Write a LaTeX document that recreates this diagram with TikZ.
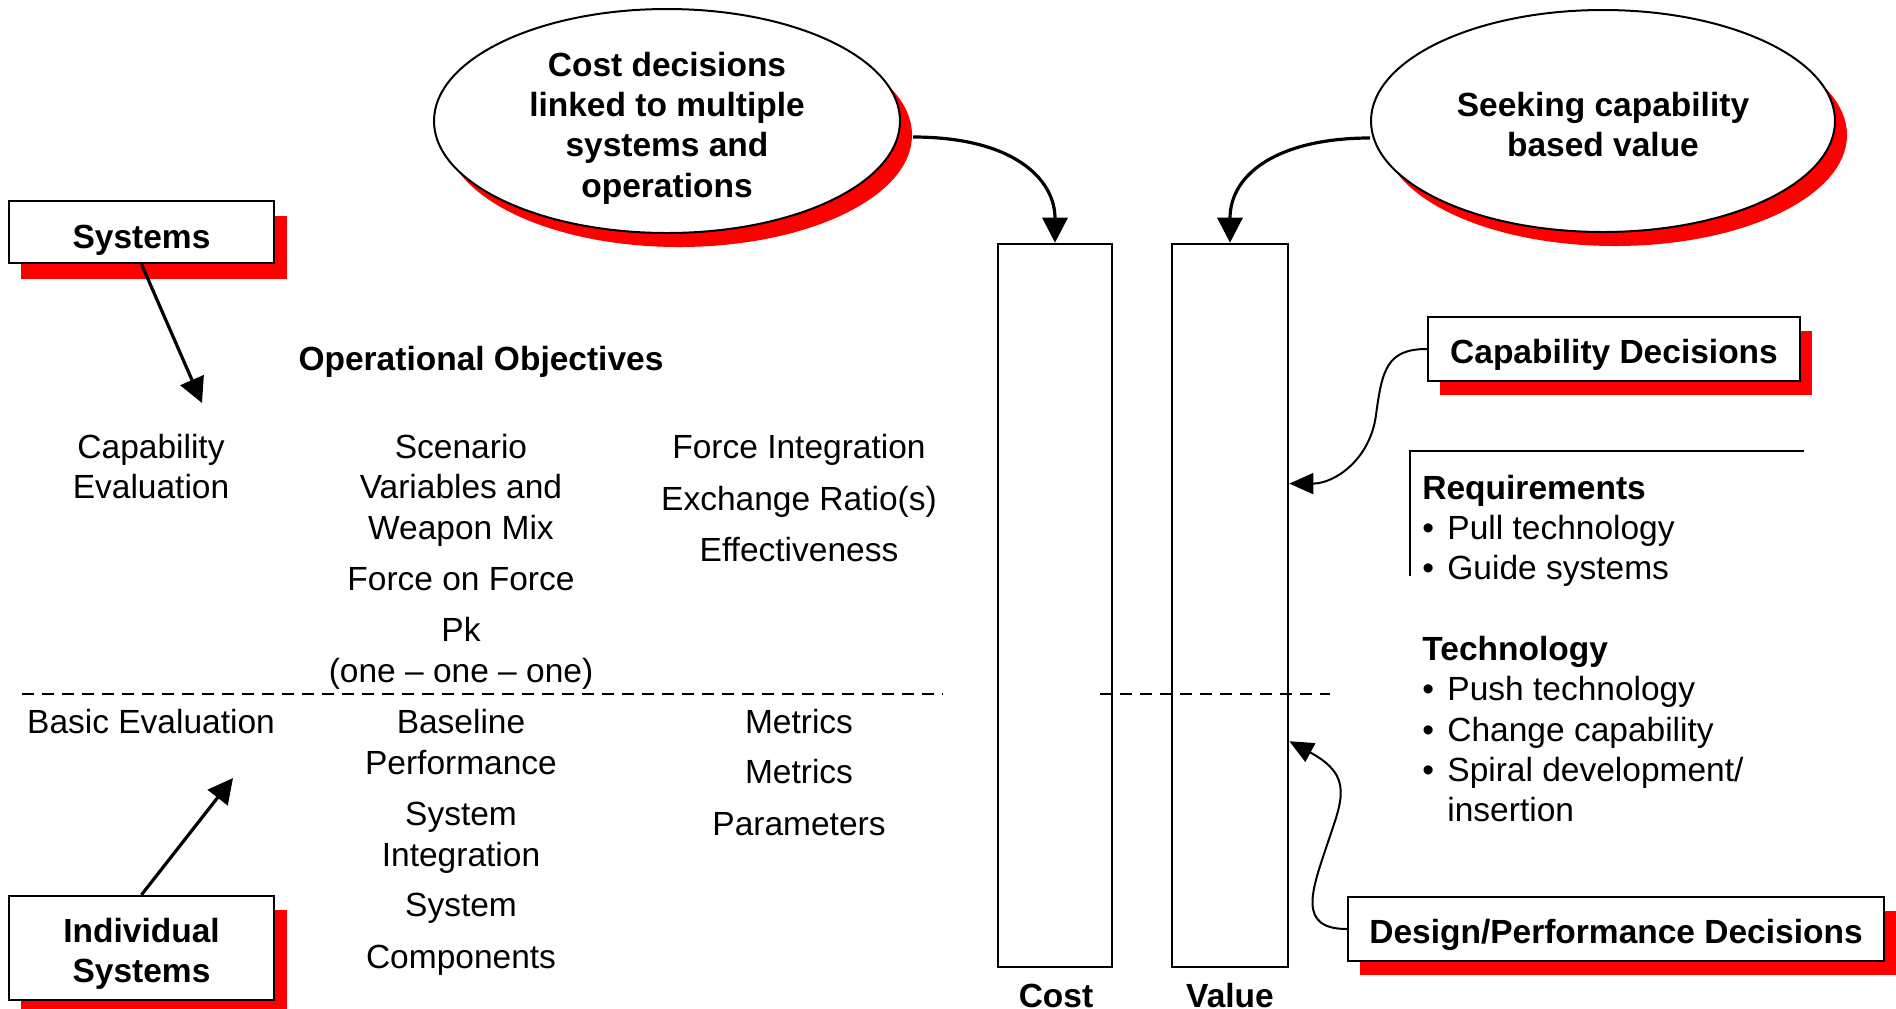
\documentclass[tikz,border=0pt]{standalone}
\usepackage{fontspec}
\setmainfont{Liberation Sans}
\usetikzlibrary{arrows.meta,shapes.geometric,calc}

\newcommand{\blt}{\rlap{\textbullet}\hspace{12.5pt}}

\begin{document}
\begin{tikzpicture}[x=0.5pt,y=0.5pt,yscale=-1,xscale=1,
    font=\fontsize{16.75}{20}\selectfont,
    lbl/.style={inner sep=0pt,anchor=base},
    lbw/.style={inner sep=0pt,anchor=base west},
    hdr/.style={lbl,font=\fontsize{16.75}{20}\selectfont\bfseries},
    dbox/.style={draw,line width=1.2pt,fill=white,inner sep=0pt},
    bubble/.style={ellipse,draw,line width=1pt,fill=white,inner sep=0pt},
    bar/.style={draw,line width=1.3pt,inner sep=0pt,minimum width=57pt,minimum height=361.5pt},
    arr/.style={line width=1pt,-{Triangle[length=12pt,width=10.5pt]}},
    bigarr/.style={line width=1.6pt,-{Triangle[length=12.5pt,width=12.5pt]}},
    cut/.style={dash pattern=on 6pt off 4pt,line width=1.4pt}]
            \useasboundingbox (0,0) rectangle (1896,1008);

            %Shape: Shadows
            \fill [red] (21,216) rectangle (287,279);
            \fill [red] (21,910) rectangle (287,1014);
            \fill [red] (1440,331) rectangle (1812,395);
            \fill [red] (1360,911) rectangle (1896,975);
            \fill [red] (679,135) ellipse (233 and 112);
            \fill [red] (1615,135) ellipse (232 and 111);

            %Shape: Ellipses
            \node [bubble,minimum width=233pt,minimum height=112pt] (costell) at (667,121) {};
            \node [bubble,minimum width=232pt,minimum height=111pt] (valell) at (1603,121) {};

            %Shape: Boxes
            \node [dbox,minimum width=132.5pt,minimum height=31pt] (sys) at (141.5,232) {};
            \node [dbox,minimum width=132.5pt,minimum height=52pt] (indiv) at (141.5,948) {};
            \node [dbox,minimum width=186pt,minimum height=32pt] (capdec) at (1614,349) {};
            \node [dbox,minimum width=268pt,minimum height=32pt] (design) at (1616,929) {};

            %Shape: Bars
            \node [bar] (cost) at (1055,605.5) {};
            \node [bar,minimum width=58pt] (value) at (1230,605.5) {};

            %Straight Lines
            \draw [cut] (22,694) -- (943,694);
            \draw [cut] (1100,694) -- (1330,694);
            \draw [line width=1pt] (1410,576) -- (1410,451) -- (1804,451);

            % Text Node
            \node [hdr] (costt1) at (667,76) {Cost decisions};
            \node [hdr] (costt2) at (667,116) {linked to multiple};
            \node [hdr] (costt3) at (667,156) {systems and};
            \node [hdr] (costt4) at (667,197) {operations};
            \node [hdr] (valt1) at (1603,116) {Seeking capability};
            \node [hdr] (valt2) at (1603,156) {based value};
            \node [hdr] (syst) at (141.5,248) {Systems};
            \node [hdr] (indivt1) at (141.5,942) {Individual};
            \node [hdr] (indivt2) at (141.5,982) {Systems};
            \node [hdr] (capdect) at (1614,363) {Capability Decisions};
            \node [hdr] (designt) at (1616,943) {Design/Performance Decisions};
            \node [hdr] (costlbl) at (1056,1007) {Cost};
            \node [hdr] (vallbl) at (1230,1007) {Value};
            % Text Node
            \node [hdr] (opobj) at (481,370) {Operational Objectives};
            \node [lbl] (capev1) at (151,458) {Capability};
            \node [lbl] (capev2) at (151,498) {Evaluation};
            \node [lbl] (basic) at (151,733) {Basic Evaluation};
            % Text Node
            \node [lbl] (scen1) at (461,458) {Scenario};
            \node [lbl] (scen2) at (461,498) {Variables and};
            \node [lbl] (scen3) at (461,539) {Weapon Mix};
            \node [lbl] (fof) at (461,590) {Force on Force};
            \node [lbl] (pk1) at (461,641) {Pk};
            \node [lbl] (pk2) at (461,682) {(one – one – one)};
            \node [lbl] (base1) at (461,733) {Baseline};
            \node [lbl] (base2) at (461,774) {Performance};
            \node [lbl] (integ1) at (461,825) {System};
            \node [lbl] (integ2) at (461,866) {Integration};
            \node [lbl] (comp1) at (461,916) {System};
            \node [lbl] (comp2) at (461,968) {Components};
            % Text Node
            \node [lbl] (forint) at (799,458) {Force Integration};
            \node [lbl] (exch) at (799,510) {Exchange Ratio(s)};
            \node [lbl] (effect) at (799,561) {Effectiveness};
            \node [lbl] (metr1) at (799,733) {Metrics};
            \node [lbl] (metr2) at (799,783) {Metrics};
            \node [lbl] (param) at (799,835) {Parameters};
            % Text Node
            \node [lbw,font=\fontsize{16.75}{20}\selectfont\bfseries] (req) at (1422,499) {Requirements};
            \node [lbw] (req1) at (1422,539) {\blt Pull technology};
            \node [lbw] (req2) at (1422,579) {\blt Guide systems};
            \node [lbw,font=\fontsize{16.75}{20}\selectfont\bfseries] (tech) at (1422,660) {Technology};
            \node [lbw] (tech1) at (1422,700) {\blt Push technology};
            \node [lbw] (tech2) at (1422,741) {\blt Change capability};
            \node [lbw] (tech3) at (1422,781) {\blt Spiral development/};
            \node [lbw] (tech4) at (1447,821) {insertion};

            %Straight Lines
            \coordinate (capevtip) at (202,403);
            \coordinate (basictip) at (233,778);
            \draw [bigarr] (sys.south) -- (capevtip);
            \draw [bigarr] (indiv.north) -- (basictip);

            %Curve Lines
            \draw [bigarr] ([shift={(6pt,8pt)}]costell.east) .. controls +(100,0) and +(0,-64) .. (cost.north);
            \draw [bigarr] ([yshift=8.5pt]valell.west) .. controls +(-90,0) and +(0,-70) .. (value.north);
            \draw [arr] (capdec.west) .. controls +(-40,0) and +(6,-45) .. (1376,415) .. controls +(-6,45) and +(45,0) .. ($(value.north east)!0.332!(value.south east)$);
            \draw [arr] (design.west) .. controls +(-50,0) and +(-15,45) .. (1327,845) .. controls +(15,-45) and +(65,35) .. ($(value.north east)!0.687!(value.south east)$);
\end{tikzpicture}
\end{document}
